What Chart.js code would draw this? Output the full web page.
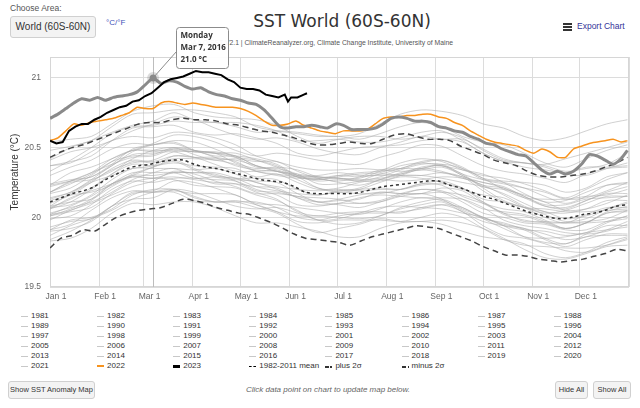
<!DOCTYPE html>
<html>
<head>
<meta charset="utf-8">
<title>SST World (60S-60N)</title>
<script src="https://cdn.jsdelivr.net/npm/chart.js@4.4.0/dist/chart.umd.min.js"></script>
<style>
  html, body { margin: 0; padding: 0; }
  body { width: 640px; height: 408px; position: relative; overflow: hidden; background: #fff;
         font-family: "Liberation Sans", Arial, sans-serif; color: #333; }
  .txt { position: absolute; white-space: nowrap; }
  .btn { position: absolute; box-sizing: border-box; background: #f3f3f3; border: 1px solid #d0d0d0;
         border-radius: 3px; color: #333; text-align: center; white-space: nowrap; }
  .bar { position: absolute; left: 563px; width: 9px; height: 1.5px; background: #333; }
  #chartBox { position: absolute; left: 0; top: 0; width: 640px; height: 308px; }
  #legend .item { position: absolute; font: 8px "Liberation Sans Narrow", "Liberation Sans", sans-serif;
                  color: #333; line-height: 10px; height: 10px; white-space: nowrap; }
  #legend .sym { position: absolute; left: -10px; width: 7px; }
</style>
</head>
<body>
<div class="txt" style="left:10px;top:3px;font-size:8.5px;color:#555">Choose Area:</div>
<div class="btn" style="left:10px;top:16px;width:86px;height:22px;font-size:10px;line-height:20px">World (60S-60N)</div>
<div class="txt" style="left:106px;top:18px;font-size:8px;color:#3d4fb8">°C/°F</div>
<div class="txt" style="left:192px;top:11px;width:300px;text-align:center;font:17px 'DejaVu Sans',sans-serif;color:#333">SST World (60S-60N)</div>
<div class="txt" style="right:187px;top:39px;font-size:6.8px;color:#555">NOAA OISST V2.1 | ClimateReanalyzer.org, Climate Change Institute, University of Maine</div>
<div class="bar" style="top:23px"></div>
<div class="bar" style="top:26px"></div>
<div class="bar" style="top:29px"></div>
<div class="txt" style="left:577px;top:21px;font-size:8.5px;color:#333399">Export Chart</div>

<div id="legend"></div>

<div class="btn" style="left:8px;top:381px;width:87px;height:18px;font-size:7.5px;line-height:16px">Show SST Anomaly Map</div>
<div class="txt" style="left:0;width:656px;top:385px;text-align:center;font-size:8px;font-style:italic;color:#666">Click data point on chart to update map below.</div>
<div class="btn" style="left:555px;top:381px;width:33px;height:18px;font-size:7.5px;line-height:16px">Hide All</div>
<div class="btn" style="left:593px;top:381px;width:38px;height:18px;font-size:7.5px;line-height:16px">Show All</div>

<div id="chartBox"><canvas id="sstChart"></canvas></div>

<script>
// x axis: day of year
const monthStarts = [0, 31, 59, 90, 120, 151, 181, 212, 243, 273, 304, 334, 365];
const monthLabels = ['Jan 1', 'Feb 1', 'Mar 1', 'Apr 1', 'May 1', 'Jun 1', 'Jul 1', 'Aug 1', 'Sep 1', 'Oct 1', 'Nov 1', 'Dec 1', ''];
const yTicks = [19.5, 20, 20.5, 21];

// sample days for each group of series
const grayDays = [0, 13, 26, 39, 52, 65, 78, 91, 104, 117, 130, 143, 156, 169, 182, 195, 208, 221, 234, 247, 260, 273, 286, 299, 312, 325, 338, 351, 364];
const climDays = [0, 7, 14, 21, 28, 35, 42, 49, 56, 63, 70, 77, 84, 91, 98, 105, 112, 119, 126, 133, 140, 147, 154, 161, 168, 175, 182, 189, 196, 203, 210, 217, 224, 231, 238, 245, 252, 259, 266, 273, 280, 287, 294, 301, 308, 315, 322, 329, 336, 343, 350, 357, 364];
const hiDays = [0, 5, 10, 15, 20, 25, 30, 35, 40, 45, 50, 55, 60, 65, 70, 75, 80, 85, 90, 95, 100, 105, 110, 115, 120, 125, 130, 135, 140, 145, 150, 155, 160, 165, 170, 175, 180, 185, 190, 195, 200, 205, 210, 215, 220, 225, 230, 235, 240, 245, 250, 255, 260, 265, 270, 275, 280, 285, 290, 295, 300, 305, 310, 315, 320, 325, 330, 335, 340, 345, 350, 355, 360, 364];
const days2023 = [0, 4, 8, 12, 16, 20, 24, 28, 32, 36, 40, 44, 48, 52, 56, 60, 64, 68, 72, 76, 80, 84, 88, 92, 96, 100, 104, 108, 112, 116, 120, 124, 128, 132, 136, 140, 144, 148, 150, 152, 156, 160, 162];

// climatology
const mean8211 = [20.11, 20.14, 20.17, 20.19, 20.22, 20.27, 20.31, 20.35, 20.37, 20.38, 20.40, 20.41, 20.41, 20.38, 20.36, 20.35, 20.33, 20.31, 20.29, 20.27, 20.26, 20.25, 20.22, 20.18, 20.17, 20.17, 20.17, 20.17, 20.18, 20.20, 20.22, 20.23, 20.24, 20.25, 20.26, 20.26, 20.23, 20.21, 20.18, 20.15, 20.13, 20.10, 20.07, 20.04, 20.02, 20.00, 19.99, 20.00, 20.02, 20.03, 20.05, 20.08, 20.09];
const plus2sd = [20.43, 20.47, 20.50, 20.52, 20.55, 20.58, 20.61, 20.64, 20.67, 20.68, 20.68, 20.70, 20.71, 20.70, 20.70, 20.69, 20.67, 20.66, 20.64, 20.62, 20.61, 20.59, 20.57, 20.54, 20.52, 20.52, 20.53, 20.54, 20.53, 20.53, 20.56, 20.59, 20.60, 20.58, 20.56, 20.56, 20.55, 20.51, 20.48, 20.45, 20.41, 20.39, 20.37, 20.33, 20.30, 20.29, 20.29, 20.30, 20.31, 20.33, 20.36, 20.39, 20.43];
const minus2sd = [19.78, 19.85, 19.87, 19.91, 19.90, 19.95, 20.00, 20.03, 20.05, 20.06, 20.07, 20.10, 20.13, 20.12, 20.10, 20.07, 20.05, 20.03, 20.02, 19.99, 19.96, 19.92, 19.88, 19.85, 19.84, 19.83, 19.82, 19.80, 19.83, 19.86, 19.88, 19.90, 19.92, 19.94, 19.93, 19.92, 19.89, 19.86, 19.83, 19.79, 19.76, 19.73, 19.73, 19.72, 19.70, 19.69, 19.68, 19.69, 19.70, 19.72, 19.74, 19.77, 19.76];

// highlighted years
const sst2016 = [20.71, 20.74, 20.78, 20.82, 20.85, 20.84, 20.86, 20.84, 20.86, 20.87, 20.88, 20.90, 20.95, 21.00, 20.96, 20.98, 20.97, 20.94, 20.92, 20.93, 20.90, 20.88, 20.87, 20.85, 20.84, 20.82, 20.81, 20.77, 20.71, 20.65, 20.64, 20.65, 20.65, 20.66, 20.65, 20.64, 20.67, 20.66, 20.63, 20.63, 20.63, 20.64, 20.67, 20.71, 20.72, 20.71, 20.69, 20.69, 20.68, 20.65, 20.64, 20.62, 20.61, 20.58, 20.56, 20.53, 20.52, 20.49, 20.47, 20.45, 20.44, 20.39, 20.34, 20.31, 20.33, 20.31, 20.33, 20.38, 20.45, 20.44, 20.41, 20.38, 20.42, 20.48];
const sst2022 = [20.55, 20.57, 20.62, 20.67, 20.66, 20.68, 20.69, 20.70, 20.71, 20.73, 20.75, 20.79, 20.78, 20.78, 20.82, 20.83, 20.82, 20.81, 20.82, 20.81, 20.80, 20.79, 20.79, 20.79, 20.78, 20.76, 20.73, 20.69, 20.66, 20.66, 20.67, 20.69, 20.66, 20.64, 20.62, 20.61, 20.60, 20.62, 20.62, 20.62, 20.63, 20.67, 20.71, 20.72, 20.72, 20.73, 20.73, 20.74, 20.74, 20.72, 20.71, 20.68, 20.66, 20.62, 20.59, 20.56, 20.54, 20.53, 20.52, 20.51, 20.48, 20.46, 20.49, 20.47, 20.43, 20.43, 20.49, 20.51, 20.53, 20.54, 20.55, 20.56, 20.54, 20.55];
const sst2023 = [20.55, 20.53, 20.54, 20.62, 20.65, 20.67, 20.67, 20.70, 20.72, 20.75, 20.77, 20.79, 20.80, 20.83, 20.84, 20.87, 20.89, 20.93, 20.97, 20.99, 21.00, 21.01, 21.03, 21.05, 21.04, 21.04, 21.03, 21.02, 20.99, 20.97, 20.93, 20.92, 20.92, 20.91, 20.88, 20.87, 20.86, 20.88, 20.83, 20.86, 20.86, 20.88, 20.89];

// other years (light grey)
const sst1981 = [19.91, 19.98, 20.00, 20.06, 20.16, 20.20, 20.20, 20.15, 20.11, 20.12, 20.09, 20.04, 19.97, 19.96, 19.98, 19.98, 19.98, 19.97, 20.00, 20.03, 20.00, 19.92, 19.84, 19.80, 19.79, 19.78, 19.78, 19.80, 19.84];
const sst1982 = [19.90, 19.92, 19.97, 20.08, 20.17, 20.18, 20.19, 20.17, 20.17, 20.16, 20.09, 20.04, 20.01, 20.01, 20.00, 19.99, 20.01, 20.07, 20.11, 20.13, 20.07, 20.00, 19.94, 19.91, 19.90, 19.87, 19.89, 19.96, 20.01];
const sst1983 = [20.02, 20.08, 20.15, 20.24, 20.29, 20.28, 20.32, 20.32, 20.31, 20.26, 20.19, 20.18, 20.15, 20.14, 20.13, 20.10, 20.11, 20.15, 20.17, 20.13, 20.05, 19.99, 19.96, 19.91, 19.84, 19.79, 19.84, 19.88, 19.88];
const sst1984 = [19.93, 19.97, 19.99, 20.08, 20.18, 20.18, 20.18, 20.12, 20.11, 20.11, 20.07, 20.03, 19.95, 19.89, 19.92, 19.95, 19.99, 19.97, 19.97, 19.98, 19.96, 19.92, 19.85, 19.77, 19.71, 19.70, 19.74, 19.79, 19.80];
const sst1985 = [19.83, 19.85, 19.92, 20.03, 20.10, 20.09, 20.11, 20.11, 20.07, 20.01, 19.96, 19.96, 19.93, 19.90, 19.86, 19.86, 19.92, 19.96, 19.97, 19.95, 19.90, 19.86, 19.84, 19.81, 19.74, 19.71, 19.75, 19.82, 19.86];
const sst1986 = [19.84, 19.90, 19.98, 20.08, 20.13, 20.14, 20.20, 20.18, 20.13, 20.08, 20.06, 20.07, 20.03, 19.98, 19.95, 19.96, 20.01, 20.06, 20.09, 20.11, 20.04, 19.97, 19.94, 19.92, 19.88, 19.84, 19.86, 19.91, 19.97];
const sst1987 = [20.01, 20.06, 20.13, 20.24, 20.30, 20.30, 20.32, 20.32, 20.32, 20.28, 20.22, 20.19, 20.17, 20.16, 20.18, 20.17, 20.17, 20.20, 20.24, 20.23, 20.15, 20.10, 20.06, 20.04, 19.98, 19.92, 19.96, 20.03, 20.04];
const sst1988 = [20.08, 20.11, 20.13, 20.22, 20.29, 20.28, 20.29, 20.27, 20.25, 20.24, 20.18, 20.13, 20.04, 20.01, 20.03, 20.04, 20.04, 20.03, 20.07, 20.09, 20.04, 19.94, 19.87, 19.85, 19.81, 19.76, 19.75, 19.80, 19.85];
const sst1989 = [19.87, 19.94, 19.99, 20.05, 20.13, 20.18, 20.20, 20.14, 20.11, 20.11, 20.11, 20.07, 20.00, 19.98, 20.01, 20.03, 20.03, 20.04, 20.06, 20.09, 20.07, 19.99, 19.92, 19.86, 19.85, 19.86, 19.89, 19.91, 19.93];
const sst1990 = [19.98, 20.05, 20.10, 20.16, 20.22, 20.26, 20.33, 20.31, 20.26, 20.22, 20.17, 20.17, 20.15, 20.11, 20.09, 20.07, 20.11, 20.16, 20.20, 20.18, 20.11, 20.03, 20.00, 19.96, 19.95, 19.91, 19.91, 19.97, 20.01];
const sst1991 = [20.03, 20.07, 20.11, 20.18, 20.27, 20.32, 20.35, 20.29, 20.24, 20.24, 20.22, 20.21, 20.14, 20.09, 20.10, 20.14, 20.16, 20.15, 20.14, 20.14, 20.13, 20.07, 19.98, 19.94, 19.92, 19.89, 19.88, 19.90, 19.95];
const sst1992 = [20.01, 20.04, 20.07, 20.17, 20.25, 20.28, 20.27, 20.23, 20.22, 20.21, 20.16, 20.12, 20.05, 19.98, 19.99, 20.03, 20.07, 20.08, 20.07, 20.06, 20.03, 20.00, 19.94, 19.86, 19.82, 19.81, 19.86, 19.87, 19.87];
const sst1993 = [19.91, 19.95, 20.05, 20.14, 20.19, 20.19, 20.26, 20.25, 20.21, 20.16, 20.10, 20.09, 20.07, 20.05, 20.03, 20.02, 20.06, 20.11, 20.14, 20.12, 20.06, 20.00, 19.95, 19.92, 19.85, 19.81, 19.88, 19.94, 19.94];
const sst1994 = [19.99, 20.01, 20.09, 20.20, 20.26, 20.25, 20.28, 20.28, 20.27, 20.26, 20.20, 20.16, 20.09, 20.08, 20.10, 20.10, 20.12, 20.17, 20.20, 20.19, 20.13, 20.06, 20.04, 20.02, 19.97, 19.92, 19.96, 20.04, 20.08];
const sst1995 = [20.06, 20.14, 20.19, 20.24, 20.30, 20.36, 20.41, 20.35, 20.30, 20.28, 20.28, 20.27, 20.20, 20.16, 20.19, 20.20, 20.21, 20.20, 20.23, 20.24, 20.21, 20.11, 20.02, 19.98, 19.96, 19.96, 19.96, 19.97, 19.99];
const sst1996 = [20.02, 20.05, 20.12, 20.24, 20.32, 20.32, 20.32, 20.28, 20.29, 20.28, 20.25, 20.20, 20.14, 20.11, 20.13, 20.16, 20.18, 20.17, 20.17, 20.18, 20.16, 20.11, 20.03, 20.01, 19.96, 19.92, 19.96, 20.03, 20.05];
const sst1997 = [20.06, 20.11, 20.20, 20.31, 20.40, 20.39, 20.42, 20.42, 20.41, 20.38, 20.33, 20.30, 20.28, 20.28, 20.30, 20.29, 20.31, 20.35, 20.39, 20.41, 20.36, 20.28, 20.26, 20.25, 20.23, 20.18, 20.21, 20.29, 20.32];
const sst1998 = [20.37, 20.39, 20.47, 20.55, 20.58, 20.57, 20.61, 20.60, 20.57, 20.52, 20.44, 20.40, 20.36, 20.34, 20.34, 20.35, 20.34, 20.33, 20.34, 20.36, 20.30, 20.21, 20.12, 20.07, 20.04, 19.99, 20.01, 20.06, 20.10];
const sst1999 = [20.12, 20.16, 20.18, 20.23, 20.31, 20.36, 20.40, 20.34, 20.29, 20.27, 20.26, 20.25, 20.17, 20.11, 20.12, 20.13, 20.18, 20.17, 20.17, 20.21, 20.19, 20.10, 20.03, 19.97, 19.97, 19.96, 19.97, 19.99, 20.05];
const sst2000 = [20.07, 20.09, 20.16, 20.27, 20.35, 20.35, 20.35, 20.34, 20.35, 20.31, 20.25, 20.22, 20.20, 20.19, 20.20, 20.19, 20.20, 20.20, 20.24, 20.26, 20.21, 20.13, 20.11, 20.07, 20.02, 19.97, 19.99, 20.06, 20.11];
const sst2001 = [20.10, 20.16, 20.25, 20.35, 20.41, 20.40, 20.44, 20.43, 20.43, 20.40, 20.33, 20.31, 20.29, 20.28, 20.25, 20.23, 20.27, 20.32, 20.35, 20.33, 20.28, 20.25, 20.21, 20.14, 20.08, 20.07, 20.12, 20.17, 20.17];
const sst2002 = [20.17, 20.21, 20.30, 20.40, 20.48, 20.47, 20.49, 20.47, 20.46, 20.46, 20.41, 20.36, 20.29, 20.27, 20.29, 20.31, 20.32, 20.37, 20.39, 20.37, 20.34, 20.31, 20.25, 20.17, 20.11, 20.12, 20.18, 20.23, 20.24];
const sst2003 = [20.22, 20.26, 20.32, 20.42, 20.48, 20.48, 20.48, 20.47, 20.47, 20.44, 20.37, 20.33, 20.29, 20.26, 20.27, 20.26, 20.26, 20.30, 20.35, 20.37, 20.30, 20.23, 20.21, 20.15, 20.08, 20.06, 20.12, 20.18, 20.22];
const sst2004 = [20.18, 20.26, 20.32, 20.38, 20.43, 20.44, 20.49, 20.48, 20.46, 20.44, 20.37, 20.34, 20.30, 20.29, 20.28, 20.27, 20.28, 20.31, 20.34, 20.32, 20.29, 20.25, 20.22, 20.15, 20.09, 20.09, 20.13, 20.14, 20.15];
const sst2005 = [20.23, 20.26, 20.29, 20.38, 20.49, 20.52, 20.53, 20.48, 20.46, 20.43, 20.41, 20.37, 20.30, 20.30, 20.32, 20.30, 20.30, 20.31, 20.36, 20.37, 20.31, 20.22, 20.20, 20.16, 20.11, 20.05, 20.06, 20.10, 20.16];
const sst2006 = [20.14, 20.18, 20.27, 20.37, 20.45, 20.46, 20.47, 20.43, 20.42, 20.41, 20.37, 20.33, 20.31, 20.29, 20.28, 20.26, 20.29, 20.34, 20.38, 20.38, 20.31, 20.27, 20.25, 20.21, 20.15, 20.10, 20.15, 20.23, 20.25];
const sst2007 = [20.18, 20.24, 20.31, 20.40, 20.44, 20.45, 20.50, 20.48, 20.43, 20.37, 20.34, 20.33, 20.29, 20.21, 20.18, 20.20, 20.25, 20.29, 20.28, 20.25, 20.20, 20.16, 20.14, 20.07, 20.00, 19.96, 20.02, 20.07, 20.07];
const sst2008 = [20.07, 20.13, 20.21, 20.31, 20.38, 20.37, 20.39, 20.37, 20.36, 20.35, 20.29, 20.31, 20.25, 20.20, 20.21, 20.25, 20.27, 20.26, 20.27, 20.29, 20.28, 20.23, 20.16, 20.08, 20.03, 20.05, 20.10, 20.15, 20.15];
const sst2009 = [20.13, 20.18, 20.26, 20.34, 20.39, 20.41, 20.47, 20.47, 20.46, 20.39, 20.35, 20.36, 20.34, 20.29, 20.28, 20.28, 20.33, 20.39, 20.42, 20.40, 20.34, 20.30, 20.28, 20.24, 20.19, 20.14, 20.20, 20.27, 20.32];
const sst2010 = [20.30, 20.36, 20.41, 20.49, 20.53, 20.52, 20.55, 20.54, 20.49, 20.43, 20.36, 20.35, 20.31, 20.24, 20.24, 20.26, 20.31, 20.30, 20.30, 20.32, 20.29, 20.19, 20.11, 20.07, 20.06, 20.04, 20.04, 20.05, 20.06];
const sst2011 = [20.08, 20.17, 20.25, 20.30, 20.35, 20.37, 20.44, 20.43, 20.38, 20.33, 20.33, 20.33, 20.27, 20.21, 20.19, 20.21, 20.27, 20.30, 20.30, 20.28, 20.25, 20.22, 20.17, 20.10, 20.04, 20.03, 20.06, 20.12, 20.12];
const sst2012 = [20.18, 20.25, 20.27, 20.33, 20.42, 20.48, 20.50, 20.45, 20.41, 20.42, 20.40, 20.40, 20.33, 20.28, 20.26, 20.29, 20.34, 20.35, 20.35, 20.38, 20.35, 20.28, 20.20, 20.14, 20.13, 20.13, 20.15, 20.16, 20.20];
const sst2013 = [20.24, 20.27, 20.29, 20.37, 20.47, 20.52, 20.54, 20.48, 20.44, 20.44, 20.42, 20.38, 20.30, 20.27, 20.30, 20.32, 20.33, 20.35, 20.40, 20.41, 20.35, 20.27, 20.24, 20.21, 20.18, 20.13, 20.14, 20.19, 20.25];
const sst2014 = [20.23, 20.32, 20.36, 20.42, 20.48, 20.53, 20.59, 20.58, 20.54, 20.48, 20.44, 20.46, 20.44, 20.41, 20.39, 20.38, 20.43, 20.47, 20.52, 20.51, 20.44, 20.37, 20.33, 20.31, 20.28, 20.25, 20.31, 20.35, 20.36];
const sst2015 = [20.33, 20.41, 20.50, 20.60, 20.65, 20.66, 20.69, 20.68, 20.68, 20.65, 20.61, 20.62, 20.61, 20.59, 20.58, 20.60, 20.67, 20.74, 20.77, 20.76, 20.73, 20.67, 20.64, 20.58, 20.55, 20.57, 20.62, 20.67, 20.70];
const sst2017 = [20.42, 20.50, 20.55, 20.61, 20.66, 20.69, 20.75, 20.70, 20.68, 20.68, 20.66, 20.62, 20.55, 20.55, 20.56, 20.54, 20.54, 20.57, 20.61, 20.62, 20.55, 20.46, 20.40, 20.36, 20.34, 20.32, 20.36, 20.36, 20.37];
const sst2018 = [20.37, 20.40, 20.44, 20.55, 20.64, 20.65, 20.66, 20.61, 20.59, 20.60, 20.57, 20.53, 20.46, 20.44, 20.47, 20.50, 20.51, 20.52, 20.55, 20.56, 20.54, 20.46, 20.40, 20.39, 20.37, 20.33, 20.35, 20.38, 20.46];
const sst2019 = [20.48, 20.51, 20.55, 20.65, 20.74, 20.75, 20.77, 20.77, 20.75, 20.72, 20.65, 20.62, 20.60, 20.58, 20.58, 20.56, 20.60, 20.65, 20.68, 20.65, 20.58, 20.54, 20.52, 20.46, 20.39, 20.36, 20.42, 20.48, 20.52];
const sst2020 = [20.54, 20.56, 20.58, 20.67, 20.76, 20.80, 20.81, 20.75, 20.72, 20.71, 20.70, 20.66, 20.58, 20.53, 20.56, 20.58, 20.58, 20.56, 20.58, 20.61, 20.57, 20.48, 20.41, 20.39, 20.36, 20.31, 20.30, 20.35, 20.39];
const sst2021 = [20.41, 20.47, 20.50, 20.55, 20.62, 20.67, 20.72, 20.70, 20.64, 20.59, 20.56, 20.57, 20.54, 20.49, 20.46, 20.45, 20.50, 20.54, 20.58, 20.56, 20.56, 20.49, 20.42, 20.39, 20.38, 20.42, 20.46, 20.50, 20.54];

const grayYears = [1981, 1982, 1983, 1984, 1985, 1986, 1987, 1988, 1989, 1990, 1991, 1992, 1993, 1994, 1995, 1996, 1997, 1998, 1999, 2000, 2001, 2002, 2003, 2004, 2005, 2006, 2007, 2008, 2009, 2010, 2011, 2012, 2013, 2014, 2015, 2017, 2018, 2019, 2020, 2021];
const grayValues = [sst1981, sst1982, sst1983, sst1984, sst1985, sst1986, sst1987, sst1988, sst1989, sst1990, sst1991, sst1992, sst1993, sst1994, sst1995, sst1996, sst1997, sst1998, sst1999, sst2000, sst2001, sst2002, sst2003, sst2004, sst2005, sst2006, sst2007, sst2008, sst2009, sst2010, sst2011, sst2012, sst2013, sst2014, sst2015, sst2017, sst2018, sst2019, sst2020, sst2021];

// hovered point shown in the tooltip
const tipDay = 65;
const tipValue = sst2016[hiDays.indexOf(tipDay)];
const tipLines = ['Monday', 'Mar 7, 2016', tipValue.toFixed(1) + ' °C'];

const GREY = 'rgba(170,170,170,0.55)';
const toPoints = (days, vals) => days.map((d, i) => ({ x: d, y: vals[i] }));

// first dataset is drawn on top
const datasets = [
    { label: '2023', data: toPoints(days2023, sst2023), borderColor: '#000', borderWidth: 2, tension: 0 },
    { label: '2016', data: toPoints(hiDays, sst2016), borderColor: '#8a8a8a', borderWidth: 3, tension: 0.2 },
    { label: '2022', data: toPoints(hiDays, sst2022), borderColor: '#f7931e', borderWidth: 1.5, tension: 0.2 },
    { label: '1982-2011 mean', data: toPoints(climDays, mean8211), borderColor: '#333', borderWidth: 1.5, borderDash: [3, 3], tension: 0.3 },
    { label: 'plus 2σ', data: toPoints(climDays, plus2sd), borderColor: '#444', borderWidth: 1.5, borderDash: [6, 4], tension: 0.3 },
    { label: 'minus 2σ', data: toPoints(climDays, minus2sd), borderColor: '#444', borderWidth: 1.5, borderDash: [6, 4], tension: 0.3 },
];
grayYears.forEach((yr, k) => {
    datasets.push({ label: String(yr), data: toPoints(grayDays, grayValues[k]), borderColor: GREY, borderWidth: 1, tension: 0.3 });
});

// plot border, crosshair and the pinned tooltip
const pinnedTip = {
    id: 'pinnedTip',
    beforeDatasetsDraw(chart) {
        const { ctx, chartArea: a, scales } = chart;
        const px = Math.round(scales.x.getPixelForValue(tipDay)) + 0.5;
        ctx.save();
        ctx.strokeStyle = '#d6d6d6';
        ctx.lineWidth = 1;
        ctx.strokeRect(a.left + 0.5, a.top + 0.5, a.right - a.left - 1, a.bottom - a.top - 1);
        ctx.strokeStyle = '#bdbdbd';
        ctx.beginPath();
        ctx.moveTo(px, a.top);
        ctx.lineTo(px, a.bottom);
        ctx.stroke();
        ctx.restore();
    },
    afterDatasetsDraw(chart) {
        const { ctx, scales } = chart;
        const px = scales.x.getPixelForValue(tipDay);
        const py = scales.y.getPixelForValue(tipValue);
        ctx.save();
        ctx.fillStyle = 'rgba(140,140,140,0.3)';
        ctx.beginPath(); ctx.arc(px, py, 6, 0, Math.PI * 2); ctx.fill();
        ctx.fillStyle = '#8a8a8a';
        ctx.beginPath(); ctx.arc(px, py, 3.5, 0, Math.PI * 2); ctx.fill();

        const bx = 176.5, by = 27.5, bw = 52, bh = 41;
        ctx.strokeStyle = '#8c8c8c';
        ctx.lineWidth = 1;
        ctx.beginPath();
        ctx.moveTo(bx, by + 24);
        ctx.lineTo(px, py);
        ctx.stroke();
        ctx.fillStyle = 'rgba(255,255,255,0.95)';
        ctx.beginPath();
        ctx.roundRect(bx, by, bw, bh, 3);
        ctx.fill();
        ctx.stroke();
        ctx.fillStyle = '#333';
        ctx.font = 'bold 8px "Open Sans", "Liberation Sans", sans-serif';
        ctx.textBaseline = 'middle';
        tipLines.forEach((t, i) => ctx.fillText(t, bx + 4, by + 8 + i * 12.3));
        ctx.restore();
    }
};

const tickFont = { family: '"Liberation Sans Narrow", "Liberation Sans", sans-serif', size: 8.5 };

new Chart(document.getElementById('sstChart'), {
    type: 'line',
    data: { datasets },
    options: {
        responsive: true,
        maintainAspectRatio: false,
        animation: false,
        layout: { padding: { top: 57, right: 11, bottom: 0, left: 0 } },
        elements: { point: { radius: 0 }, line: { fill: false } },
        plugins: { legend: { display: false }, tooltip: { enabled: false } },
        scales: {
            x: {
                type: 'linear', min: 0, max: 365,
                afterBuildTicks: s => { s.ticks = monthStarts.map(v => ({ value: v })); },
                afterFit: s => { s.height = 21; },
                grid: { color: '#dcdcdc', drawTicks: false },
                border: { display: false },
                ticks: { autoSkip: false, maxRotation: 0, padding: 5, labelOffset: 6, color: '#666', font: tickFont,
                         callback: (v, i) => monthLabels[i] }
            },
            y: {
                min: 19.5, max: 21.15,
                afterBuildTicks: s => { s.ticks = yTicks.map(v => ({ value: v })); },
                afterFit: s => { s.width = 50; },
                grid: { color: '#dcdcdc', drawTicks: false },
                border: { display: false },
                ticks: { padding: 9, color: '#666', font: tickFont, callback: v => String(v) },
                title: { display: true, text: 'Temperature (°C)', color: '#333',
                         font: { family: '"Liberation Sans", sans-serif', size: 10 }, padding: { top: 9, bottom: 0 } }
            }
        }
    },
    plugins: [pinnedTip]
});

// legend, 8 columns
const legendYears = grayYears.concat([2016, 2022, 2023]).sort((a, b) => a - b);
const legendNames = legendYears.map(String).concat(['1982-2011 mean', 'plus 2σ', 'minus 2σ']);
const symStyle = name => {
    if (name === '2022') return 'top:4px;height:2px;background:#f7931e';
    if (name === '2023') return 'top:4px;height:2.5px;background:#000';
    if (name === '1982-2011 mean') return 'top:5px;height:0;border-top:1.5px dashed #000';
    if (name.indexOf('2σ') > 0) return 'top:5px;height:1.5px;background:linear-gradient(to right,#333 0 4px,transparent 4px 5.5px,#333 5.5px 7px)';
    return 'top:5px;height:1px;background:#c8c8c8';
};
const legendBox = document.getElementById('legend');
legendNames.forEach((name, k) => {
    const col = k % 8, row = Math.floor(k / 8);
    const item = document.createElement('div');
    item.className = 'item';
    item.style.left = (31 + col * 76.1) + 'px';
    item.style.top = (311 + row * 10) + 'px';
    item.innerHTML = '<span class="sym" style="' + symStyle(name) + '"></span>' + name;
    legendBox.appendChild(item);
});
</script>
</body>
</html>
